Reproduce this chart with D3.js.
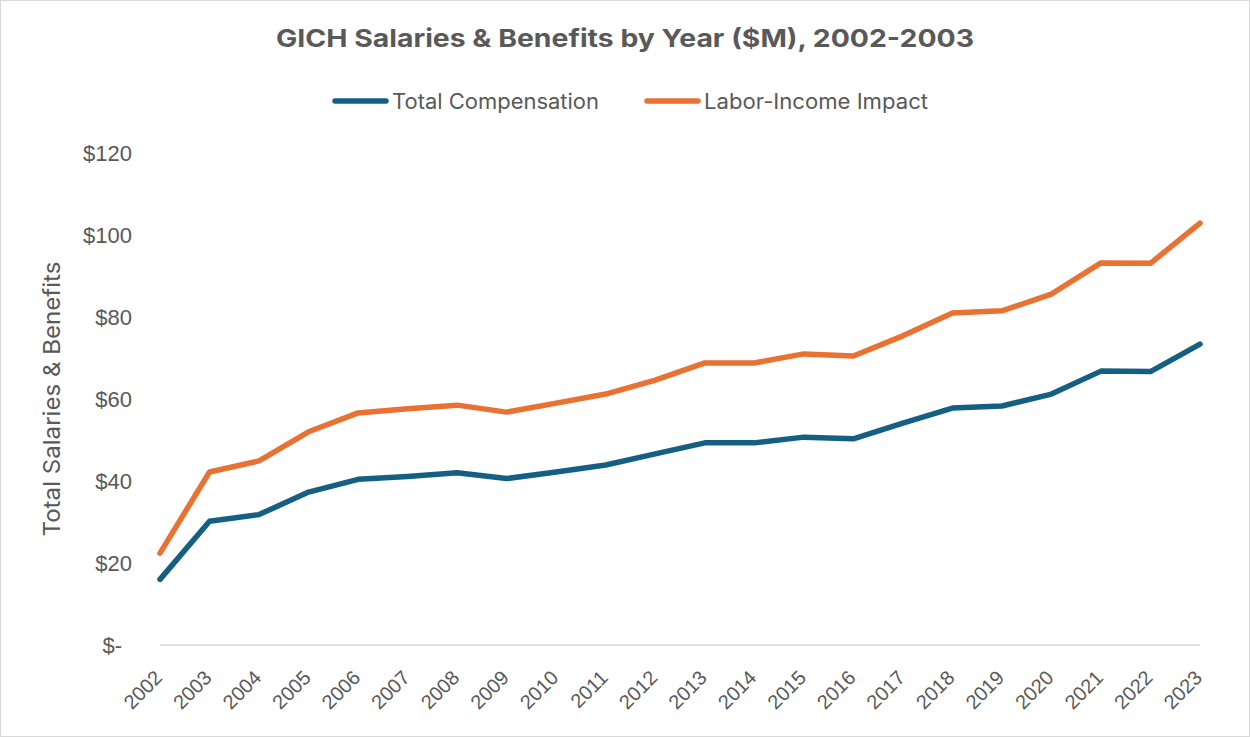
<!DOCTYPE html>
<html>
<head>
<meta charset="utf-8">
<script src="https://cdn.jsdelivr.net/npm/d3@7/dist/d3.min.js"></script>
<style>
  html, body { margin: 0; padding: 0; background: #fff; }
  svg { display: block; font-family: "Liberation Sans", Arial, sans-serif; }
</style>
</head>
<body>
<svg id="chart" width="1250" height="737"></svg>
<script>
// Salaries & benefits, $M
const years = ["2002","2003","2004","2005","2006","2007","2008","2009","2010","2011","2012",
               "2013","2014","2015","2016","2017","2018","2019","2020","2021","2022","2023"];
const totalCompensation = [16.0, 30.2, 31.8, 37.3, 40.4, 41.1, 42.0, 40.6, 42.2, 43.9, 46.6,
                           49.3, 49.3, 50.7, 50.3, 54.1, 57.8, 58.3, 61.2, 66.8, 66.7, 73.4];
const laborIncomeImpact = [22.4, 42.2, 44.9, 52.0, 56.6, 57.6, 58.5, 56.8, 59.0, 61.2, 64.6,
                           68.8, 68.8, 71.0, 70.5, 75.4, 81.0, 81.5, 85.6, 93.2, 93.1, 102.9];
const yTicks = [0, 20, 40, 60, 80, 100, 120];
const seriesNames = ["Total Compensation", "Labor-Income Impact"];
const seriesColors = ["#156082", "#E97132"];

const svg = d3.select("#chart");
const W = 1250, H = 737;
const plot = { left: 160, right: 1200, top: 153, bottom: 645 };
const textColor = "#595959";
const uiFont = "Inter, 'Liberation Sans', sans-serif";

// outer frame
svg.append("rect")
  .attr("x", 0.5).attr("y", 0.5).attr("width", W - 1).attr("height", H - 1)
  .attr("fill", "#fff").attr("stroke", "#d9d9d9").attr("stroke-width", 1);

const x = d3.scalePoint().domain(years).range([plot.left, plot.right]);
const y = d3.scaleLinear().domain([0, 120]).range([plot.bottom, plot.top]);

// title
svg.append("text")
  .attr("x", 625).attr("y", 47)
  .attr("text-anchor", "middle")
  .attr("fill", textColor)
  .attr("font-family", uiFont)
  .attr("font-size", 24.5).attr("font-weight", "bold")
  .attr("textLength", 698).attr("lengthAdjust", "spacingAndGlyphs")
  .text("GICH Salaries & Benefits by Year ($M), 2002-2003");

// legend
const legendItems = [
  { name: seriesNames[0], color: seriesColors[0], x0: 332, w: 207 },
  { name: seriesNames[1], color: seriesColors[1], x0: 644, w: 224 }
];
const lg = svg.append("g").attr("class", "legend");
legendItems.forEach(it => {
  lg.append("line")
    .attr("x1", it.x0 + 3).attr("x2", it.x0 + 54)
    .attr("y1", 101).attr("y2", 101)
    .attr("stroke", it.color).attr("stroke-width", 5.5).attr("stroke-linecap", "round");
  lg.append("text")
    .attr("x", it.x0 + 60).attr("y", 101).attr("dy", "0.36em")
    .attr("fill", textColor).attr("font-family", uiFont).attr("font-size", 21)
    .attr("textLength", it.w).attr("lengthAdjust", "spacingAndGlyphs")
    .text(it.name);
});

// y axis (labels only) with accounting-style "$-" for zero
const yAxis = d3.axisLeft(y)
  .tickValues(yTicks)
  .tickSize(0)
  .tickPadding(0)
  .tickFormat(d => d === 0 ? "$-" : "$" + d);
const gy = svg.append("g").attr("transform", "translate(132,0)").call(yAxis);
gy.select(".domain").remove();
gy.selectAll("text")
  .attr("fill", textColor).attr("font-size", 22)
  .attr("font-family", "Liberation Sans, Arial, sans-serif")
  .attr("dx", d => d === 0 ? -10 : 0);

// baseline
svg.append("line")
  .attr("x1", plot.left).attr("x2", plot.right)
  .attr("y1", y(0)).attr("y2", y(0))
  .attr("stroke", "#d9d9d9").attr("stroke-width", 1.5);

// x axis labels, rotated
const xAxis = d3.axisBottom(x).tickSize(0).tickPadding(0);
const gx = svg.append("g").attr("transform", `translate(0,${plot.bottom})`).call(xAxis);
gx.select(".domain").remove();
gx.selectAll("text")
  .attr("fill", textColor).attr("font-size", 20)
  .attr("font-family", "Liberation Sans, Arial, sans-serif")
  .attr("text-anchor", "end")
  .attr("dy", "0.35em")
  .attr("transform", "translate(-2,29) rotate(-45)");

// y axis title
svg.append("text")
  .attr("transform", "translate(52,399) rotate(-90)")
  .attr("text-anchor", "middle").attr("dy", "0.35em")
  .attr("fill", textColor).attr("font-size", 23)
  .attr("font-family", uiFont)
  .attr("textLength", 275).attr("lengthAdjust", "spacingAndGlyphs")
  .text("Total Salaries & Benefits");

// series lines
const line = d3.line()
  .x((d, i) => x(years[i]))
  .y(d => y(d));
[totalCompensation, laborIncomeImpact].forEach((vals, k) => {
  svg.append("path")
    .datum(vals)
    .attr("d", line)
    .attr("fill", "none")
    .attr("stroke", seriesColors[k])
    .attr("stroke-width", 5.5)
    .attr("stroke-linejoin", "round")
    .attr("stroke-linecap", "round");
});
</script>
</body>
</html>
